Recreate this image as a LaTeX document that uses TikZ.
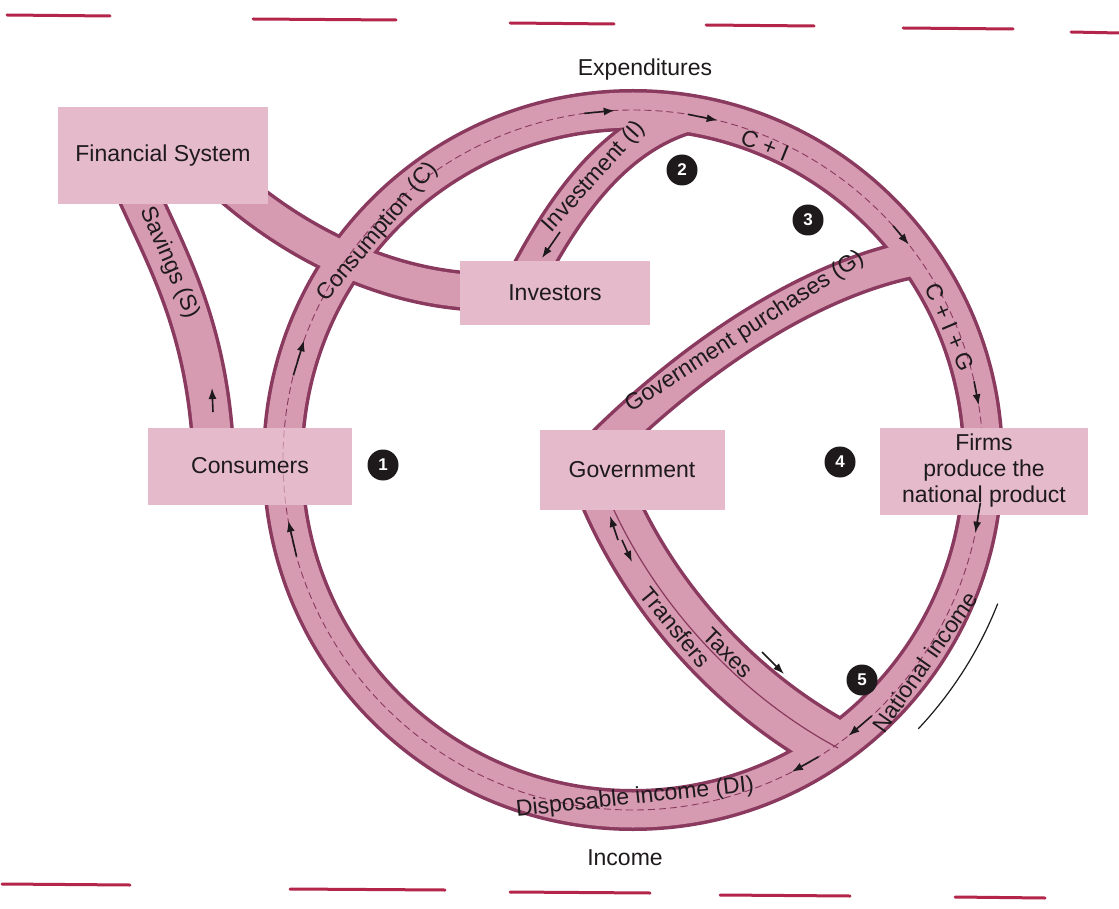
\documentclass[tikz,border=0pt]{standalone}
\usepackage{fontspec}
\setmainfont{Liberation Sans}
\usetikzlibrary{arrows.meta,calc}
\definecolor{ringedge}{HTML}{8A3A5E}
\definecolor{ringfill}{HTML}{D69AB1}
\definecolor{boxfill}{HTML}{E5BACA}
\definecolor{inkc}{HTML}{1E1A1C}
\definecolor{redl}{HTML}{B3264A}
\begin{document}
\begin{tikzpicture}[x=1pt,y=-1pt,
  box/.style={fill=boxfill, text=inkc, inner sep=0, font=\fontsize{23}{26}\selectfont},
  lbl/.style={text=inkc, font=\fontsize{23}{25}\selectfont, inner sep=1},
  numc/.style={circle, fill=inkc, text=white, minimum size=31, inner sep=0, font=\bfseries\fontsize{17}{17}\selectfont},
  arr/.style={draw=inkc, line width=1.6, -{Latex[length=11pt,width=8pt]}},
  redline/.style={draw=redl, line width=3, line cap=round},
  lane/.style={draw=ringedge, line width=0.9, dash pattern=on 7pt off 4pt},
]
\useasboundingbox (0,0) rectangle (1119,909);
\fill[white] (0,0) rectangle (1119,909);

% red rules
\draw[redline] (7,15) -- (110,16);
\draw[redline] (253,19) -- (396,20);
\draw[redline] (510,23) -- (614,24);
\draw[redline] (706,25) -- (814,26);
\draw[redline] (903,28) -- (1013,29);
\draw[redline] (1071,32) -- (1119,33);
\draw[redline] (2,884) -- (130,885);
\draw[redline] (290,889) -- (445,890);
\draw[redline] (510,892) -- (650,893);
\draw[redline] (720,895) -- (850,896);
\draw[redline] (955,897) -- (1045,898);

\coordinate (O) at (633,460);
\coordinate (s0) at (132,180); \coordinate (s1) at (213,445);
\coordinate (f0) at (222,178); \coordinate (f1) at (485,292);
\coordinate (i0) at (525,282); \coordinate (i1) at (690,114);
\coordinate (g0) at (600,450); \coordinate (g1) at (918,258);
\coordinate (t0) at (603,485); \coordinate (t1) at (838,748);

\def\pSav{(s0) .. controls (165,255) and (205,320) .. (s1)}
\def\pFin{(f0) .. controls (295,245) and (390,290) .. (f1)}
\def\pInv{(i0) .. controls (565,205) and (615,135) .. (i1)}
\def\pGov{(g0) .. controls (680,370) and (800,280) .. (g1)}
\def\pTax{(t0) .. controls (645,590) and (730,690) .. (t1)}

% pass 1: outlines
\draw[ringedge, line width=44] \pSav;
\draw[ringedge, line width=40] \pFin;
\draw[ringedge, line width=40] \pInv;
\draw[ringedge, line width=40] \pGov;
\draw[ringedge, line width=58] \pTax;
\draw[ringedge, line width=42] (O) circle[radius=350];
% pass 2: fills
\draw[ringfill, line width=37] \pSav;
\draw[ringfill, line width=33] \pFin;
\draw[ringfill, line width=33] \pInv;
\draw[ringfill, line width=33] \pGov;
\draw[ringfill, line width=51] \pTax;
\draw[ringfill, line width=35] (O) circle[radius=350];

% lanes
\draw[lane] (O) circle[radius=350];
\draw[ringedge, line width=1.2] \pTax;

% outer thin arc near national income
\draw[inkc, line width=1.2] plot[domain=21.5:43.3, samples=20] ({633+392*cos(\x)},{460+392*sin(\x)});

% boxes
\node[box, minimum width=210, minimum height=97] (fin) at (163,156) {Financial System};
\node[box, minimum width=204, minimum height=77] (cons) at (250,466) {Consumers};
\node[box, minimum width=190, minimum height=63] (inv) at (555,293) {Investors};
\node[box, minimum width=185, minimum height=80] (gov) at (632,470) {Government};
\node[box, minimum width=208, minimum height=87, align=center] (firms) at (984,471) {Firms\\produce the\\national product};
% faint ring line seen through the box
\begin{scope}
\clip (cons.south west) rectangle (cons.north east);
\draw[lane, opacity=0.35] (O) circle[radius=350];
\end{scope}

% ring arrows
\newcommand\ringarr[2]{\draw[arr] ([shift={(O)}]#1:350) -- ([shift={(O)}]#2:350);}
\ringarr{194}{200}
\ringarr{164}{170}
\ringarr{262}{267}
\ringarr{279}{284}
\ringarr{318}{322}
\ringarr{347}{351}
\ringarr{7}{12}
\ringarr{47}{52}
\ringarr{58}{63}

% pipe arrows
\draw[arr] (213,412) -- (212,388);
\draw[arr] (560,232) -- (542,258);
\draw[arr] (762,652) -- (784,674);
\draw[arr] (618,540) -- (610,516);
\draw[arr] (622,540) -- (632,562);

% labels
\path \pSav node[lbl, sloped, pos=0.37] {Savings (S)};
\path \pInv node[lbl, sloped, pos=0.5] {Investment (I)};
\path \pGov node[lbl, sloped, pos=0.5] {Government purchases (G)};
\path \pTax node[lbl, sloped, pos=0.6, above=1pt] {Taxes} node[lbl, sloped, pos=0.45, below=1pt] {Transfers};

\node[lbl, rotate=50] (lc) at (378,232) {Consumption (C)};
\node[lbl, rotate=-22] (lci) at (765,145) {C + I};
\node[lbl, rotate=-67] (lcig) at (950,327) {C + I + G};
\node[lbl, rotate=55] (lni) at (925,662) {National income};
\node[lbl, rotate=6] (ldi) at (635,798) {Disposable income (DI)};
\node[lbl] (lexp) at (645,70) {Expenditures};
\node[lbl] (linc) at (625,858) {Income};

% numbers
\node[numc] (n1) at (383,465) {1};
\node[numc] (n2) at (682,170) {2};
\node[numc] (n3) at (808,220) {3};
\node[numc] (n4) at (840,462) {4};
\node[numc] (n5) at (862,680) {5};
\end{tikzpicture}
\end{document}
